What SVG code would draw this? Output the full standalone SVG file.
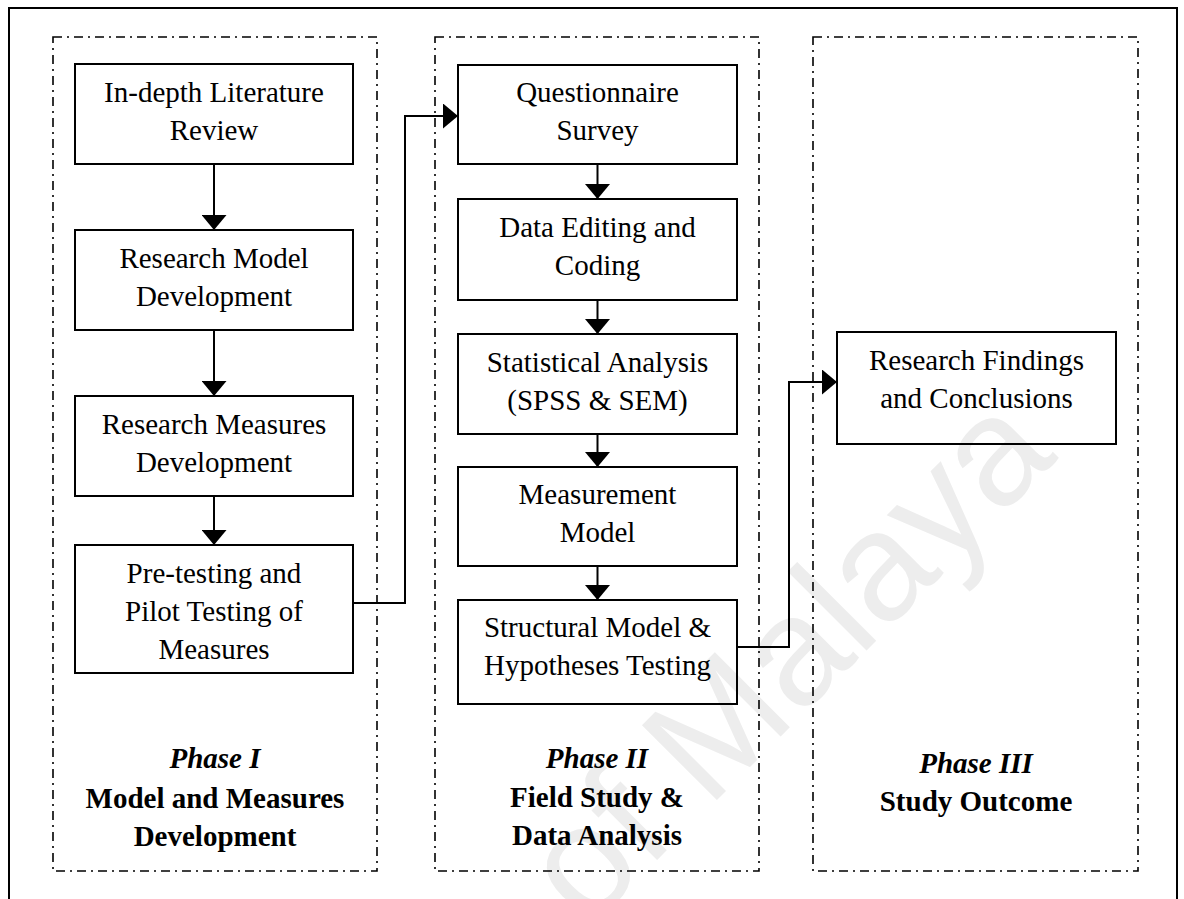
<svg xmlns="http://www.w3.org/2000/svg" width="1184" height="899" viewBox="0 0 1184 899">
  <style>
    .frame { fill: none; stroke: #000; stroke-width: 2; }
    .phase { fill: none; stroke: #000; stroke-width: 1.6; stroke-dasharray: 9 5 2 5; }
    .box { fill: none; stroke: #000; stroke-width: 2; }
    .lbl { font-family: "Liberation Serif", "Times New Roman", serif; font-size: 29px; fill: #000; text-anchor: middle; }
    .ttl { font-family: "Liberation Serif", "Times New Roman", serif; font-size: 29px; font-weight: bold; fill: #000; text-anchor: middle; }
    .ttl-i { font-style: italic; }
    .wire { fill: none; stroke: #000; stroke-width: 2; }
    .wm { font-family: "Liberation Sans", Arial, sans-serif; font-size: 154px; fill: #ededed; text-anchor: end; }
  </style>
  <defs>
    <marker id="head" viewBox="0 0 15 25" refX="15" refY="12.5" markerWidth="15" markerHeight="25" markerUnits="userSpaceOnUse" orient="auto">
      <path d="M0,0 L15,12.5 L0,25 Z" fill="#000"/>
    </marker>
  </defs>

  <rect width="1184" height="899" fill="#fff"/>

  <!-- faint background watermark -->
  <text class="wm" transform="translate(1059,458) rotate(-45)">of Malaya</text>

  <!-- outer frame (open at the bottom) -->
  <path class="frame" d="M9,899 V8 H1177 V899"/>

  <!-- phase panels -->
  <g id="panel-1">
    <rect class="phase" x="53" y="37" width="324" height="834"/>
    <text class="ttl ttl-i" x="215" y="768">Phase I</text>
    <text class="ttl" x="215" y="808">Model and Measures</text>
    <text class="ttl" x="215" y="846">Development</text>
  </g>
  <g id="panel-2">
    <rect class="phase" x="435" y="37" width="324" height="834"/>
    <text class="ttl ttl-i" x="597" y="768">Phase II</text>
    <text class="ttl" x="597" y="807">Field Study &amp;</text>
    <text class="ttl" x="597" y="845">Data Analysis</text>
  </g>
  <g id="panel-3">
    <rect class="phase" x="813" y="37" width="325" height="834"/>
    <text class="ttl ttl-i" x="976" y="773">Phase III</text>
    <text class="ttl" x="976" y="811">Study Outcome</text>
  </g>

  <!-- Phase I steps -->
  <g id="literature-review">
    <rect class="box" x="75" y="64" width="278" height="100"/>
    <text class="lbl" x="214" y="102">In-depth Literature</text>
    <text class="lbl" x="214" y="140">Review</text>
  </g>
  <g id="model-development">
    <rect class="box" x="75" y="230" width="278" height="100"/>
    <text class="lbl" x="214" y="268">Research Model</text>
    <text class="lbl" x="214" y="306">Development</text>
  </g>
  <g id="measures-development">
    <rect class="box" x="75" y="396" width="278" height="100"/>
    <text class="lbl" x="214" y="434">Research Measures</text>
    <text class="lbl" x="214" y="472">Development</text>
  </g>
  <g id="pilot-testing">
    <rect class="box" x="75" y="545" width="278" height="128"/>
    <text class="lbl" x="214" y="583">Pre-testing and</text>
    <text class="lbl" x="214" y="621">Pilot Testing of</text>
    <text class="lbl" x="214" y="659">Measures</text>
  </g>

  <!-- Phase II steps -->
  <g id="questionnaire-survey">
    <rect class="box" x="458" y="65" width="279" height="99"/>
    <text class="lbl" x="597.5" y="102">Questionnaire</text>
    <text class="lbl" x="597.5" y="140">Survey</text>
  </g>
  <g id="data-editing">
    <rect class="box" x="458" y="199" width="279" height="101"/>
    <text class="lbl" x="597.5" y="237">Data Editing and</text>
    <text class="lbl" x="597.5" y="275">Coding</text>
  </g>
  <g id="statistical-analysis">
    <rect class="box" x="458" y="334" width="279" height="100"/>
    <text class="lbl" x="597.5" y="372">Statistical Analysis</text>
    <text class="lbl" x="597.5" y="410">(SPSS &amp; SEM)</text>
  </g>
  <g id="measurement-model">
    <rect class="box" x="458" y="467" width="279" height="99"/>
    <text class="lbl" x="597.5" y="504">Measurement</text>
    <text class="lbl" x="597.5" y="542">Model</text>
  </g>
  <g id="structural-model">
    <rect class="box" x="458" y="600" width="279" height="104"/>
    <text class="lbl" x="597.5" y="637">Structural Model &amp;</text>
    <text class="lbl" x="597.5" y="675">Hypotheses Testing</text>
  </g>

  <!-- Phase III step -->
  <g id="findings">
    <rect class="box" x="837" y="332" width="279" height="112"/>
    <text class="lbl" x="976.5" y="370">Research Findings</text>
    <text class="lbl" x="976.5" y="408">and Conclusions</text>
  </g>

  <!-- connectors -->
  <g id="connectors">
    <path class="wire" d="M214,164 V230" marker-end="url(#head)"/>
    <path class="wire" d="M214,330 V396" marker-end="url(#head)"/>
    <path class="wire" d="M214,496 V545" marker-end="url(#head)"/>
    <path class="wire" d="M353,603 H405 V116 H458" marker-end="url(#head)"/>
    <path class="wire" d="M597.5,164 V199" marker-end="url(#head)"/>
    <path class="wire" d="M597.5,300 V334" marker-end="url(#head)"/>
    <path class="wire" d="M597.5,434 V467" marker-end="url(#head)"/>
    <path class="wire" d="M597.5,566 V600" marker-end="url(#head)"/>
    <path class="wire" d="M737,647 H789 V382 H837" marker-end="url(#head)"/>
  </g>
</svg>
